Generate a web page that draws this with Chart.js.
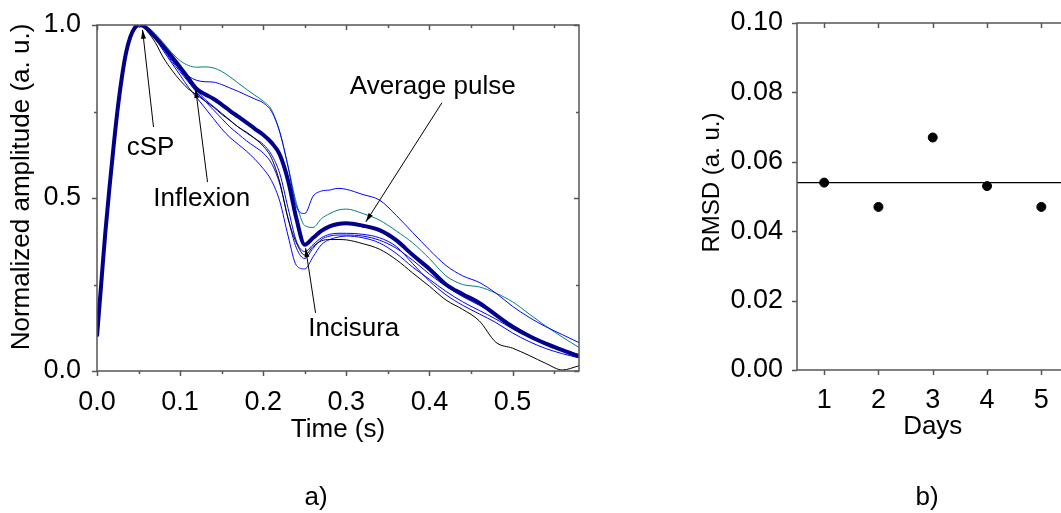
<!DOCTYPE html>
<html>
<head>
<meta charset="utf-8">
<script src="https://cdn.jsdelivr.net/npm/chart.js@4.4.1/dist/chart.umd.min.js"></script>
<style>
  html, body { margin: 0; padding: 0; background: #fff; }
  body { width: 1061px; height: 513px; position: relative; overflow: hidden;
         font-family: "Liberation Sans", Arial, sans-serif; }
  canvas { position: absolute; top: 0; }
  #pulseChart { left: 0; }
  #rmsdChart { left: 690px; }
  .caption { position: absolute; font-size: 26px; color: #000; transform: translate(-50%, -50%); }
</style>
</head>
<body>
<canvas id="pulseChart" width="620" height="513"></canvas>
<canvas id="rmsdChart" width="420" height="513"></canvas>
<div class="caption" style="left:316px; top:496px">a)</div>
<div class="caption" style="left:927px; top:496px">b)</div>
<script>
// --- Data: a) pulses ---
const timeS = [0, 0.005, 0.01, 0.015, 0.02, 0.025, 0.03, 0.035, 0.04, 0.045, 0.05, 0.055, 0.06,
  0.07, 0.08, 0.09, 0.10, 0.11, 0.12, 0.13, 0.14, 0.15, 0.16, 0.17, 0.18, 0.19, 0.20,
  0.21, 0.22, 0.23, 0.24, 0.25, 0.26, 0.27, 0.28, 0.29, 0.30,
  0.32, 0.34, 0.36, 0.38, 0.40, 0.42, 0.44, 0.46, 0.48, 0.50, 0.52, 0.54, 0.56, 0.58];

const averagePulse = [0.10, 0.25, 0.40, 0.53, 0.65, 0.76, 0.85, 0.92, 0.965, 0.99, 1.00, 0.998, 0.99,
  0.965, 0.938, 0.909, 0.878, 0.846, 0.815, 0.80, 0.787, 0.77, 0.752, 0.735, 0.718, 0.70, 0.683,
  0.66, 0.625, 0.55, 0.44, 0.365, 0.385, 0.405, 0.418, 0.425, 0.427,
  0.42, 0.407, 0.378, 0.335, 0.295, 0.25, 0.222, 0.197, 0.162, 0.128, 0.101, 0.079, 0.06, 0.042];

const pulseTeal = [0.10, 0.25, 0.40, 0.53, 0.65, 0.76, 0.85, 0.92, 0.965, 0.99, 1.00, 1.00, 0.995,
  0.975, 0.948, 0.92, 0.897, 0.883, 0.878, 0.879, 0.876, 0.866, 0.85, 0.832, 0.814, 0.797, 0.78,
  0.755, 0.69, 0.59, 0.485, 0.42, 0.415, 0.44, 0.455, 0.465, 0.468,
  0.455, 0.436, 0.405, 0.37, 0.325, 0.275, 0.25, 0.243, 0.225, 0.2, 0.165, 0.13, 0.098, 0.068];

const pulseBlue1 = [0.10, 0.25, 0.40, 0.53, 0.65, 0.76, 0.85, 0.92, 0.965, 0.99, 1.00, 1.00, 0.994,
  0.97, 0.935, 0.90, 0.872, 0.852, 0.84, 0.836, 0.835, 0.828, 0.818, 0.808, 0.797, 0.786, 0.775,
  0.75, 0.69, 0.59, 0.475, 0.455, 0.505, 0.52, 0.523, 0.528, 0.525,
  0.51, 0.494, 0.45, 0.40, 0.35, 0.305, 0.275, 0.256, 0.225, 0.187, 0.155, 0.128, 0.105, 0.082];

const pulseBlack = [0.10, 0.25, 0.40, 0.53, 0.65, 0.76, 0.85, 0.92, 0.963, 0.99, 1.00, 0.995, 0.983,
  0.95, 0.905, 0.87, 0.84, 0.815, 0.798, 0.78, 0.763, 0.742, 0.724, 0.705, 0.69, 0.672, 0.65,
  0.615, 0.545, 0.44, 0.37, 0.335, 0.36, 0.376, 0.38, 0.38, 0.379,
  0.368, 0.352, 0.322, 0.283, 0.245, 0.205, 0.178, 0.145, 0.083, 0.066, 0.045, 0.022, 0.003, 0.015];

const pulseBlue2 = [0.10, 0.25, 0.40, 0.53, 0.65, 0.76, 0.85, 0.92, 0.965, 0.99, 1.00, 0.997, 0.988,
  0.96, 0.925, 0.89, 0.855, 0.82, 0.79, 0.76, 0.73, 0.70, 0.675, 0.655, 0.635, 0.612, 0.585,
  0.55, 0.49, 0.39, 0.305, 0.295, 0.33, 0.365, 0.38, 0.387, 0.39,
  0.385, 0.37, 0.34, 0.30, 0.265, 0.23, 0.20, 0.175, 0.15, 0.122, 0.098, 0.078, 0.06, 0.045];

const pulseBlue3 = [0.10, 0.25, 0.40, 0.53, 0.65, 0.76, 0.85, 0.92, 0.965, 0.99, 1.00, 0.998, 0.99,
  0.965, 0.93, 0.895, 0.865, 0.835, 0.805, 0.78, 0.755, 0.73, 0.705, 0.685, 0.665, 0.648, 0.63,
  0.60, 0.54, 0.44, 0.355, 0.325, 0.355, 0.38, 0.39, 0.393, 0.393,
  0.39, 0.378, 0.355, 0.32, 0.28, 0.245, 0.215, 0.19, 0.162, 0.133, 0.105, 0.082, 0.062, 0.048];

const pulseBlue4 = [0.10, 0.25, 0.40, 0.53, 0.65, 0.76, 0.85, 0.92, 0.965, 0.99, 1.00, 1.00, 0.993,
  0.965, 0.93, 0.90, 0.87, 0.84, 0.81, 0.785, 0.765, 0.745, 0.725, 0.705, 0.688, 0.672, 0.655,
  0.625, 0.57, 0.47, 0.375, 0.345, 0.365, 0.385, 0.395, 0.398, 0.398,
  0.395, 0.385, 0.36, 0.31, 0.26, 0.22, 0.19, 0.165, 0.14, 0.11, 0.085, 0.065, 0.05, 0.038];

// labels with arrows, in data units (time, amplitude)
const pulseNotes = [
  { text: 'cSP',           at: [0.0645, 0.645], from: [0.068, 0.705], to: [0.0548, 0.986] },
  { text: 'Inflexion',     at: [0.126, 0.497],  from: [0.133, 0.546], to: [0.1187, 0.815] },
  { text: 'Average pulse', at: [0.404, 0.821],  from: [0.415, 0.775], to: [0.3235, 0.431] },
  { text: 'Incisura',      at: [0.309, 0.121],  from: [0.263, 0.168], to: [0.251, 0.355] }
];

// --- Data: b) RMSD per day ---
const days = [1, 2, 3, 4, 5];
const rmsd = [0.054, 0.047, 0.067, 0.053, 0.047];
const rmsdMean = 0.054;
const dayRange = [0.5, 5.5];

const FONT = '"Liberation Sans", Arial, sans-serif';
Chart.defaults.font.family = FONT;
Chart.defaults.font.size = 27;
Chart.defaults.color = '#000';

function xy(values) {
  return timeS.map((t, i) => ({ x: t, y: values[i] }));
}

// frame, inward/outward ticks and axis titles (Origin look)
const framePlugin = {
  id: 'frame',
  afterDraw(chart, args, opts) {
    const { ctx, chartArea: a, scales: { x, y } } = chart;
    const seg = (x1, y1, x2, y2) => { ctx.beginPath(); ctx.moveTo(x1, y1); ctx.lineTo(x2, y2); ctx.stroke(); };
    ctx.save();
    ctx.strokeStyle = opts.color;
    ctx.lineWidth = opts.width;
    ctx.strokeRect(a.left, a.top, a.right - a.left, a.bottom - a.top);
    x.ticks.forEach(t => {
      const p = Math.round(x.getPixelForValue(t.value)) + 0.5;
      const len = t.label ? opts.major : opts.minor;
      seg(p, a.bottom, p, a.bottom + len);
      seg(p, a.top, p, a.top + len);
    });
    y.ticks.forEach(t => {
      const p = Math.round(y.getPixelForValue(t.value)) + 0.5;
      const len = t.label ? opts.major : opts.minor;
      seg(a.left - len, p, a.left, p);
      seg(a.right - len, p, a.right, p);
    });
    ctx.fillStyle = '#000';
    ctx.textAlign = 'center';
    ctx.textBaseline = 'middle';
    ctx.font = opts.xTitle.size + 'px ' + FONT;
    ctx.fillText(opts.xTitle.text, (a.left + a.right) / 2, a.bottom + opts.xTitle.dy);
    ctx.font = opts.yTitle.size + 'px ' + FONT;
    ctx.translate(a.left - opts.yTitle.dx, (a.top + a.bottom) / 2 + opts.yTitle.shift);
    ctx.rotate(-Math.PI / 2);
    ctx.fillText(opts.yTitle.text, 0, 0);
    ctx.restore();
  }
};

// text labels with thin arrows
const notesPlugin = {
  id: 'notes',
  afterDatasetsDraw(chart, args, opts) {
    const { ctx, scales: { x, y } } = chart;
    if (!opts.items) return;
    ctx.save();
    ctx.strokeStyle = '#000';
    ctx.fillStyle = '#000';
    ctx.lineWidth = 1;
    opts.items.forEach(n => {
      const x1 = x.getPixelForValue(n.from[0]), y1 = y.getPixelForValue(n.from[1]);
      const x2 = x.getPixelForValue(n.to[0]), y2 = y.getPixelForValue(n.to[1]);
      ctx.beginPath(); ctx.moveTo(x1, y1); ctx.lineTo(x2, y2); ctx.stroke();
      const ang = Math.atan2(y2 - y1, x2 - x1);
      ctx.beginPath();
      ctx.moveTo(x2, y2);
      ctx.lineTo(x2 - 9 * Math.cos(ang) + 2.5 * Math.sin(ang), y2 - 9 * Math.sin(ang) - 2.5 * Math.cos(ang));
      ctx.lineTo(x2 - 9 * Math.cos(ang) - 2.5 * Math.sin(ang), y2 - 9 * Math.sin(ang) + 2.5 * Math.cos(ang));
      ctx.closePath();
      ctx.fill();
      ctx.font = '26px ' + FONT;
      ctx.textAlign = 'center';
      ctx.textBaseline = 'middle';
      ctx.fillText(n.text, x.getPixelForValue(n.at[0]), y.getPixelForValue(n.at[1]));
    });
    ctx.restore();
  }
};

const isStep = (v, step) => Math.abs(v / step - Math.round(v / step)) < 1e-6;

// Chart a)
const thin = (label, values, color) => ({
  label, data: xy(values), borderColor: color, borderWidth: 1, pointRadius: 0,
  cubicInterpolationMode: 'monotone', order: 1
});

new Chart(document.getElementById('pulseChart'), {
  type: 'line',
  data: {
    datasets: [
      {
        label: 'Average pulse', data: xy(averagePulse), borderColor: '#00008B', borderWidth: 4,
        pointRadius: 0, cubicInterpolationMode: 'monotone', order: 0
      },
      thin('Pulse 1', pulseBlue1, '#0000FF'),
      thin('Pulse 2', pulseTeal, '#008080'),
      thin('Pulse 3', pulseBlack, '#000000'),
      thin('Pulse 4', pulseBlue2, '#0000FF'),
      thin('Pulse 5', pulseBlue3, '#0000FF'),
      thin('Pulse 6', pulseBlue4, '#0000FF')
    ]
  },
  options: {
    responsive: false,
    animation: false,
    layout: { padding: { left: 0, top: 25, right: 41, bottom: 82 } },
    plugins: {
      legend: { display: false },
      tooltip: { enabled: false },
      frame: {
        color: '#555', width: 1.5, major: 5, minor: 3,
        xTitle: { text: 'Time (s)', size: 26, dy: 59 },
        yTitle: { text: 'Normalized amplitude (a. u.)', size: 26, dx: 75, shift: -11 }
      },
      notes: { items: pulseNotes }
    },
    scales: {
      x: {
        type: 'linear', min: 0, max: 0.58,
        afterFit: s => { s.height = 60; },
        grid: { display: false }, border: { display: false },
        ticks: {
          stepSize: 0.05, includeBounds: false, autoSkip: false, maxRotation: 0, padding: 7,
          callback: v => isStep(v, 0.1) ? v.toFixed(1) : ''
        }
      },
      y: {
        min: 0, max: 1,
        afterFit: s => { s.width = 97; },
        grid: { display: false }, border: { display: false },
        ticks: {
          stepSize: 0.25, includeBounds: false, padding: 8,
          callback: v => isStep(v, 0.5) ? v.toFixed(1) : ''
        }
      }
    }
  },
  plugins: [framePlugin, notesPlugin]
});

// Chart b)
new Chart(document.getElementById('rmsdChart'), {
  type: 'scatter',
  data: {
    datasets: [
      {
        label: 'RMSD', data: days.map((d, i) => ({ x: d, y: rmsd[i] })),
        backgroundColor: '#000', borderColor: '#000', pointRadius: 4.5, order: 0
      },
      {
        type: 'line', label: 'Mean', data: dayRange.map(d => ({ x: d, y: rmsdMean })),
        borderColor: '#000', borderWidth: 1.2, pointRadius: 0, order: 1
      }
    ]
  },
  options: {
    responsive: false,
    animation: false,
    layout: { padding: { left: 0, top: 23, right: 41.5, bottom: 83 } },
    plugins: {
      legend: { display: false },
      tooltip: { enabled: false },
      frame: {
        color: '#555', width: 1.5, major: 5, minor: 3,
        xTitle: { text: 'Days', size: 26, dy: 57 },
        yTitle: { text: 'RMSD (a. u.)', size: 24, dx: 85, shift: -14 }
      }
    },
    scales: {
      x: {
        type: 'linear', min: dayRange[0], max: dayRange[1],
        afterFit: s => { s.height = 60; },
        afterBuildTicks: s => { s.ticks = days.map(d => ({ value: d })); },
        grid: { display: false }, border: { display: false },
        ticks: { autoSkip: false, maxRotation: 0, padding: 6, callback: v => String(v) }
      },
      y: {
        min: 0, max: 0.1,
        afterFit: s => { s.width = 107; },
        grid: { display: false }, border: { display: false },
        ticks: {
          stepSize: 0.01, includeBounds: false, padding: 6,
          callback: v => isStep(v, 0.02) ? v.toFixed(2) : ''
        }
      }
    }
  },
  plugins: [framePlugin]
});
</script>
</body>
</html>
